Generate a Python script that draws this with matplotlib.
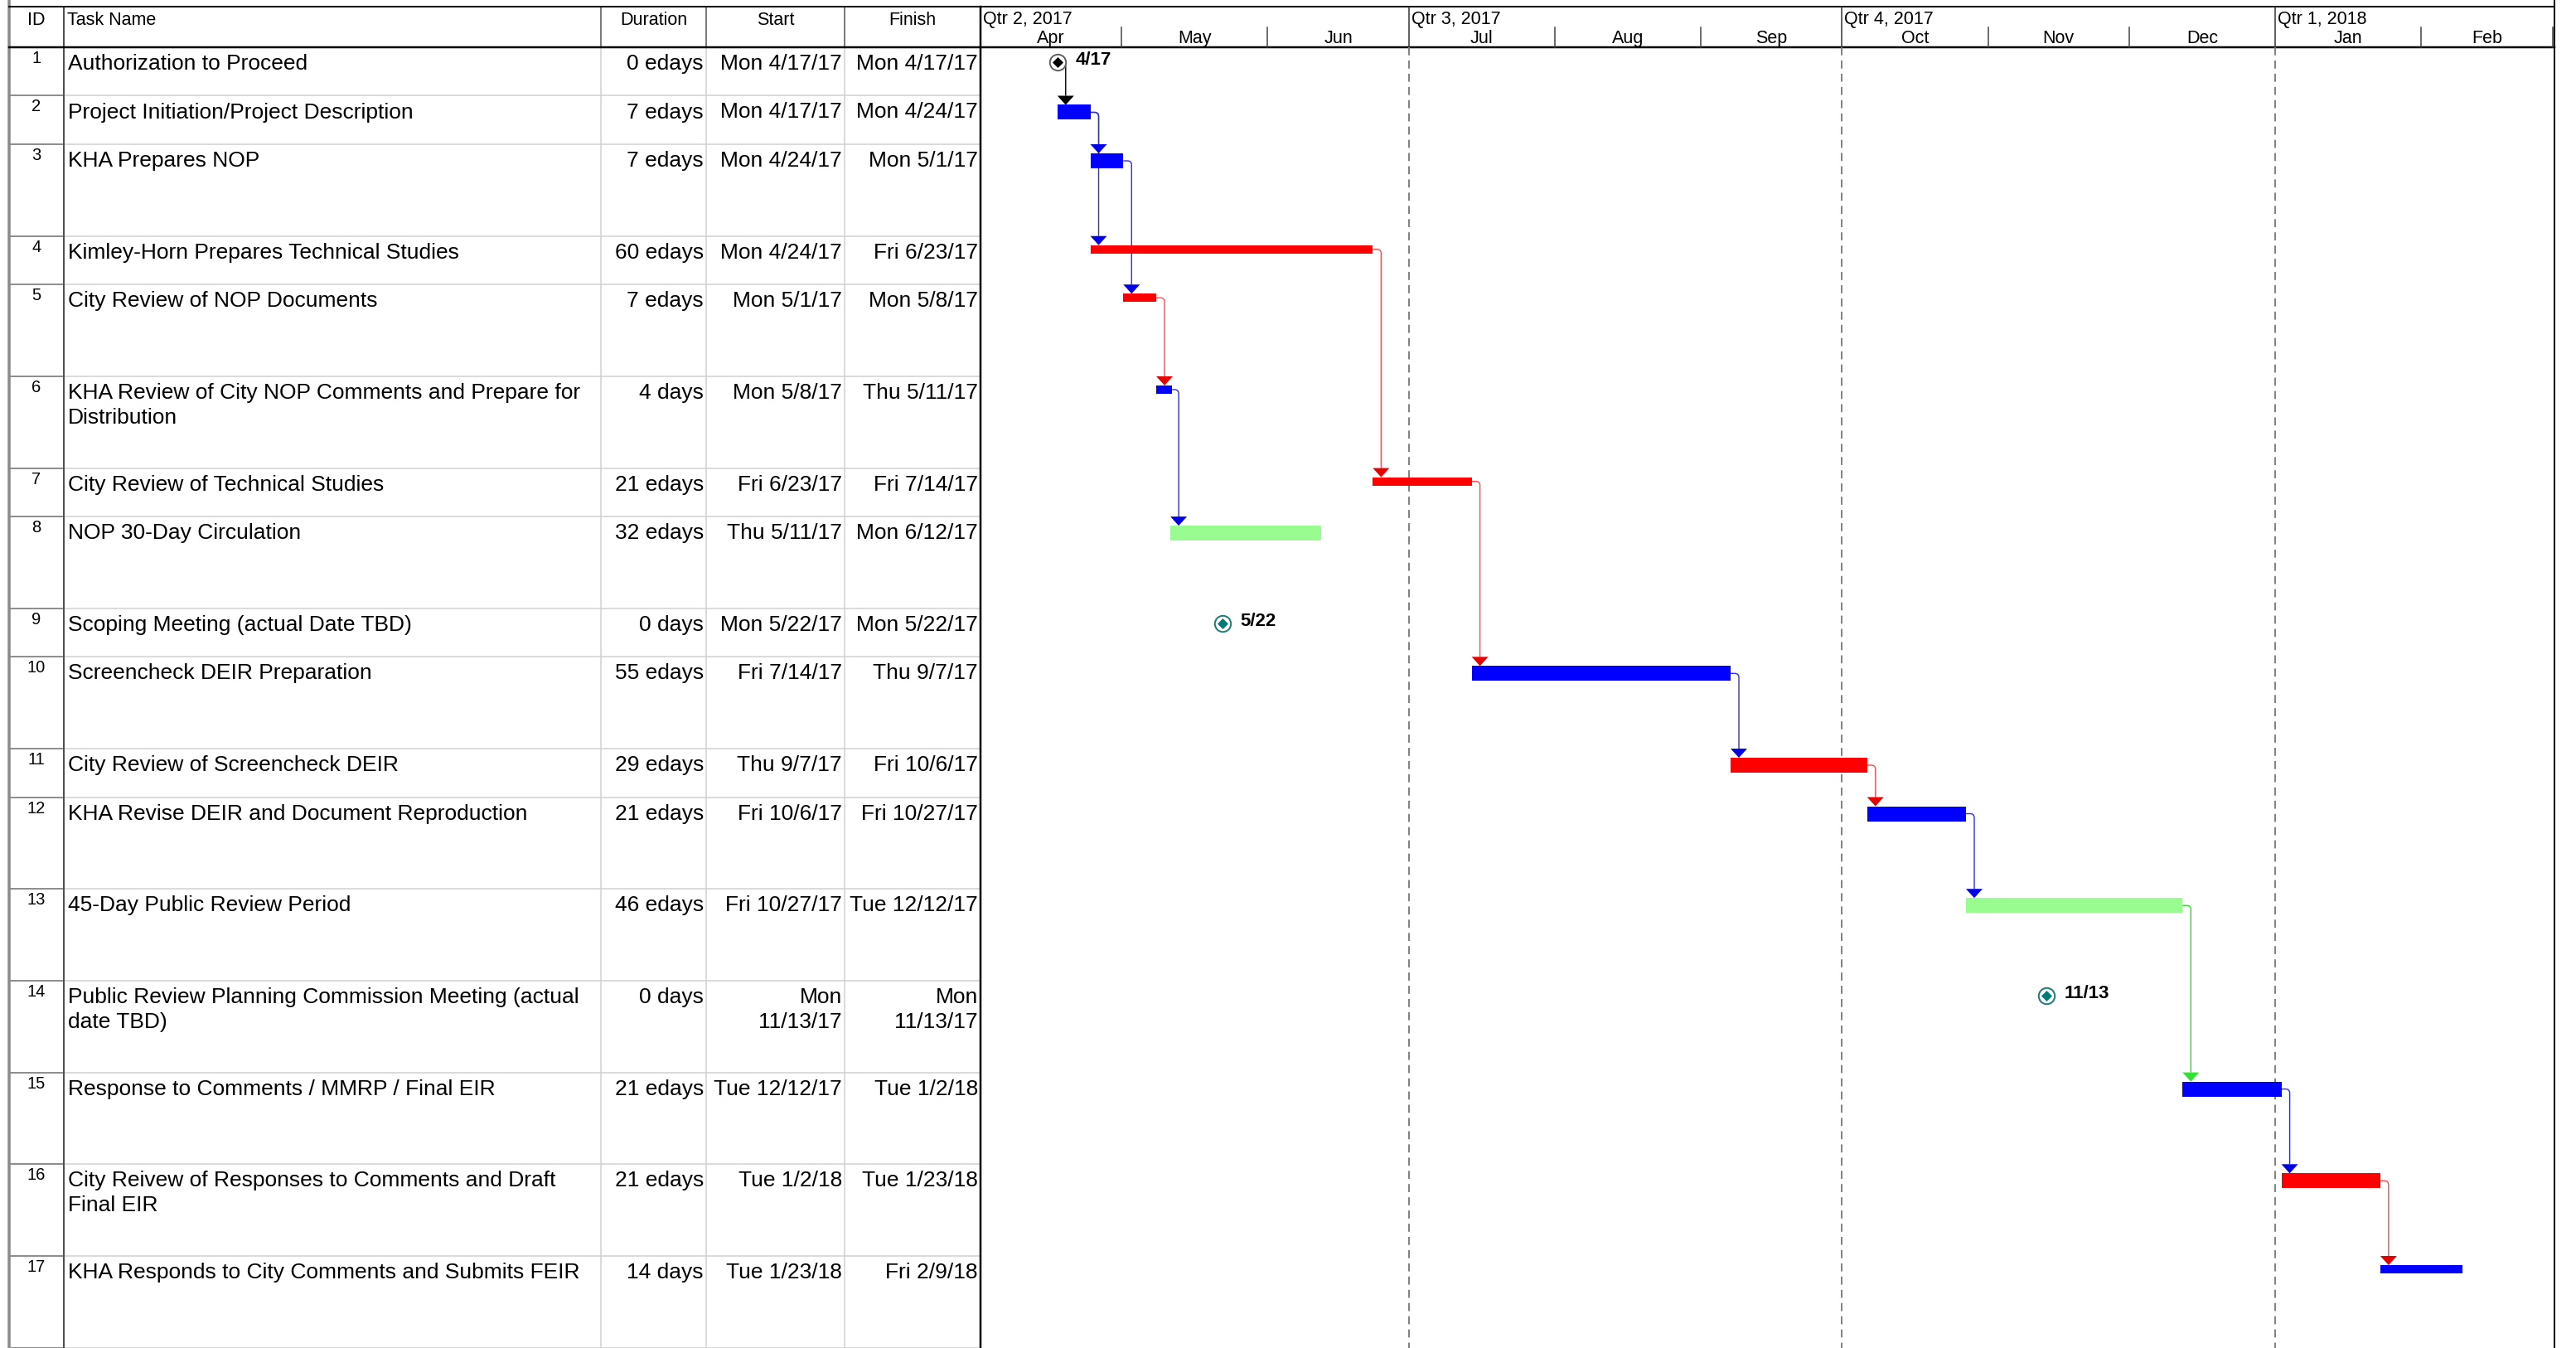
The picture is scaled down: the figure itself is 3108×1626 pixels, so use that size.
import datetime as dt
import matplotlib
matplotlib.use('Agg')
import matplotlib.pyplot as plt
import matplotlib.dates as mdates
from matplotlib.patches import Polygon, PathPatch
from matplotlib.path import Path

### Data
ids = list(range(1, 18))
task_names = ['Authorization to Proceed',
              'Project Initiation/Project Description',
              'KHA Prepares NOP',
              'Kimley-Horn Prepares Technical Studies',
              'City Review of NOP Documents',
              'KHA Review of City NOP Comments and Prepare for\nDistribution',
              'City Review of Technical Studies',
              'NOP 30-Day Circulation',
              'Scoping Meeting (actual Date TBD)',
              'Screencheck DEIR Preparation',
              'City Review of Screencheck DEIR',
              'KHA Revise DEIR and Document Reproduction',
              '45-Day Public Review Period',
              'Public Review Planning Commission Meeting (actual\ndate TBD)',
              'Response to Comments / MMRP / Final EIR',
              'City Reivew of Responses to Comments and Draft\nFinal EIR',
              'KHA Responds to City Comments and Submits FEIR']
durations = ['0 edays', '7 edays', '7 edays', '60 edays', '7 edays', '4 days',
             '21 edays', '32 edays', '0 days', '55 edays', '29 edays', '21 edays',
             '46 edays', '0 days', '21 edays', '21 edays', '14 days']
starts = ['Mon 4/17/17', 'Mon 4/17/17', 'Mon 4/24/17', 'Mon 4/24/17', 'Mon 5/1/17',
          'Mon 5/8/17', 'Fri 6/23/17', 'Thu 5/11/17', 'Mon 5/22/17', 'Fri 7/14/17',
          'Thu 9/7/17', 'Fri 10/6/17', 'Fri 10/27/17', 'Mon\n11/13/17', 'Tue 12/12/17',
          'Tue 1/2/18', 'Tue 1/23/18']
finishes = ['Mon 4/17/17', 'Mon 4/24/17', 'Mon 5/1/17', 'Fri 6/23/17', 'Mon 5/8/17',
            'Thu 5/11/17', 'Fri 7/14/17', 'Mon 6/12/17', 'Mon 5/22/17', 'Thu 9/7/17',
            'Fri 10/6/17', 'Fri 10/27/17', 'Tue 12/12/17', 'Mon\n11/13/17', 'Tue 1/2/18',
            'Tue 1/23/18', 'Fri 2/9/18']
# predecessor -> successor (finish to start)
links = [(1, 2), (2, 3), (2, 4), (3, 5), (4, 7), (5, 6), (6, 8), (7, 10),
         (10, 11), (11, 12), (12, 13), (13, 15), (15, 16), (16, 17)]

quarter_starts = ['2017-04-01', '2017-07-01', '2017-10-01', '2018-01-01']
quarter_labels = ['Qtr 2, 2017', 'Qtr 3, 2017', 'Qtr 4, 2017', 'Qtr 1, 2018']
month_edges = ['2017-04-01', '2017-05-01', '2017-06-01', '2017-07-01', '2017-08-01',
               '2017-09-01', '2017-10-01', '2017-11-01', '2017-12-01', '2018-01-01',
               '2018-02-01', '2018-03-01']
month_labels = ['Apr', 'May', 'Jun', 'Jul', 'Aug', 'Sep', 'Oct', 'Nov', 'Dec', 'Jan', 'Feb']

### Style
bar_color = ['k', 'b', 'b', 'r', 'r', 'b', 'r', 'g', 'k', 'b', 'r', 'b', 'g', 'k', 'b', 'r', 'b']
bar_thin = [4, 5, 6, 7, 17]
row_big = [3, 5, 6, 8, 10, 12, 13, 14, 15, 16, 17]
fill = {'b': '#0000ff', 'r': '#ff0000', 'g': '#98fc90', 'k': 'black'}
link_col = {'b': '#2a2aff', 'r': '#ff4a4a', 'g': '#30d830', 'k': 'black'}
tri_col = {'b': '#0000e6', 'r': '#e60000', 'g': '#33e033', 'k': 'black'}

W, H, DPI = 3108, 1626, 100
TOP, HDR = 8, 57
X_L, X_ID, X_TASK, X_DUR, X_START, X_G, X_R = 11, 77, 725, 852, 1019, 1183, 3082
SMALL, BIG = 58.5, 110.7

BODY = ['Liberation Sans', 'DejaVu Sans']
NARROW = ['Liberation Sans Narrow', 'Liberation Sans', 'DejaVu Sans']
FS_BODY, FS_HDR, FS_ID = 19, 15.5, 14.5

def to_date(s):
    return dt.datetime.strptime(s.split()[-1], '%m/%d/%y')

# row layout
row_top = []
y = HDR
for i in ids:
    row_top.append(y)
    y += BIG if i in row_big else SMALL

fig = plt.figure(figsize=(W / DPI, H / DPI), dpi=DPI)
ax_t = fig.add_axes([0, 0, X_G / W, 1])
ax_t.set_xlim(0, X_G)
ax_t.set_ylim(H, 0)
ax_t.axis('off')

ax_g = fig.add_axes([X_G / W, 0, (X_R - X_G) / W, 1])
xd0 = mdates.date2num(dt.datetime(2017, 4, 1))
xd1 = mdates.date2num(dt.datetime(2018, 3, 1, 8))
ax_g.set_xlim(xd0, xd1)
ax_g.set_ylim(H, 0)
ax_g.axis('off')
ppd = (X_R - X_G) / (xd1 - xd0)   # pixels per day

### Table
lw_px = 0.72
for yy in row_top[1:] + [row_top[-1] + BIG]:
    ax_t.plot([X_ID, X_G], [yy, yy], color='#d0d0d0', lw=1.5 * lw_px)
    ax_t.plot([X_L, X_ID], [yy, yy], color='#6a6a6a', lw=1.5 * lw_px)
for xx in [X_TASK, X_DUR, X_START]:
    ax_t.plot([xx, xx], [HDR, H], color='#d0d0d0', lw=1.5 * lw_px)
    ax_t.plot([xx, xx], [TOP, HDR], color='#505050', lw=1.5 * lw_px)
ax_t.plot([X_ID, X_ID], [TOP, H], color='#505050', lw=2 * lw_px)
ax_t.plot([X_L, X_L], [0, H], color='#8a8a8a', lw=3.5 * lw_px, clip_on=False)
ax_t.plot([X_L, X_G], [TOP, TOP], color='black', lw=2 * lw_px)
ax_t.plot([X_L, X_G], [HDR, HDR], color='black', lw=2.5 * lw_px)
ax_t.plot([X_G, X_G], [TOP, H], color='black', lw=2.5 * lw_px, clip_on=False)

hdr_kw = dict(va='center', fontsize=FS_HDR, family=NARROW)
ax_t.text((X_L + X_ID) / 2, 24, 'ID', ha='center', **hdr_kw)
ax_t.text(X_ID + 4, 24, 'Task Name', ha='left', **hdr_kw)
ax_t.text((X_TASK + X_DUR) / 2, 24, 'Duration', ha='center', **hdr_kw)
ax_t.text((X_DUR + X_START) / 2, 24, 'Start', ha='center', **hdr_kw)
ax_t.text((X_START + X_G) / 2, 24, 'Finish', ha='center', **hdr_kw)

txt_kw = dict(va='top', fontsize=FS_BODY, family=BODY, linespacing=1.3)
for k, i in enumerate(ids):
    yt = row_top[k] + 8
    ax_t.text((X_L + X_ID) / 2, row_top[k] + 4, str(i), ha='center', va='top',
              fontsize=FS_ID, family=BODY)
    ax_t.text(X_ID + 5, yt, task_names[k], ha='left', **txt_kw)
    ax_t.text(X_DUR - 3, yt, durations[k], ha='right', **txt_kw)
    ax_t.text(X_START - 3, yt, starts[k], ha='right', **txt_kw)
    ax_t.text(X_G - 3, yt, finishes[k], ha='right', **txt_kw)

### Timescale header
ax_g.plot([xd0, xd1], [TOP, TOP], color='black', lw=2 * lw_px, clip_on=False)
ax_g.plot([xd0, xd1], [HDR, HDR], color='black', lw=2.5 * lw_px, clip_on=False)
ax_g.plot([xd1, xd1], [0, H], color='black', lw=2 * lw_px, clip_on=False)
q_num = [mdates.date2num(dt.datetime.strptime(q, '%Y-%m-%d')) for q in quarter_starts]
m_num = [mdates.date2num(dt.datetime.strptime(m, '%Y-%m-%d')) for m in month_edges]
for q, lab in zip(q_num, quarter_labels):
    if q > xd0:
        ax_g.plot([q, q], [TOP, HDR], color='#303030', lw=1.5 * lw_px)
        ax_g.plot([q, q], [HDR, H], color='#808080', lw=1.4, ls=(0, (5, 3.2)))
    ax_g.text(q + 3 / ppd, 24, lab, ha='left', va='center', fontsize=FS_HDR, family=NARROW)
for m in m_num[1:]:
    if m not in q_num:
        ax_g.plot([m, m], [33, HDR], color='#404040', lw=1.5 * lw_px)
for a, b, lab in zip(m_num[:-1], m_num[1:], month_labels):
    ax_g.text((a + b) / 2, 46.5, lab, ha='center', va='center', fontsize=FS_HDR, family=NARROW)

### Bars and milestones
start_d = [mdates.date2num(to_date(s)) + 8 / 24 for s in starts]
finish_d = []
for f, d in zip(finishes, durations):
    end_h = 8 if 'edays' in d else 17
    finish_d.append(mdates.date2num(to_date(f)) + end_h / 24)

BAR_OFF = 11
bar_top, bar_mid, bar_end = [], [], []
for k, i in enumerate(ids):
    h = 10 if i in bar_thin else 18
    bar_top.append(row_top[k] + BAR_OFF)
    bar_mid.append(row_top[k] + BAR_OFF + h / 2)
    if durations[k].startswith('0 '):
        xm = start_d[k]
        ym = row_top[k] + 18
        bar_mid[k] = ym
        bar_end.append(xm)
        mcol = 'black' if i == 1 else '#007a78'
        ecol = '#606060' if i == 1 else '#1a7a78'
        ax_g.plot(xm, ym, marker='o', ms=14, mfc='white', mec=ecol, mew=1.4, zorder=6)
        ax_g.plot(xm, ym, marker='D', ms=6.5, mfc=mcol, mec=mcol, mew=0.5, zorder=7)
        d = to_date(starts[k])
        ax_g.text(xm + 22 / ppd, ym - 2, f'{d.month}/{d.day}', ha='left', va='center',
                  fontsize=16, fontweight='bold', family=NARROW)
    else:
        bar_end.append(finish_d[k])
        ax_g.barh(row_top[k] + BAR_OFF + h / 2, finish_d[k] - start_d[k], left=start_d[k],
                  height=h, color=fill[bar_color[k]], zorder=4)

### Links
off = 10 / ppd
rx, ry = 5 / ppd, 5
tw, th = 10 / ppd, 11
for p, s in links:
    i, j = p - 1, s - 1
    xe, ye = bar_end[i], bar_mid[i]
    xs = start_d[j] + off
    ytri = bar_top[j] - th
    verts = [(xe, ye), (xs - rx, ye), (xs, ye), (xs, ye + ry), (xs, ytri)]
    codes = [Path.MOVETO, Path.LINETO, Path.CURVE3, Path.CURVE3, Path.LINETO]
    ax_g.add_patch(PathPatch(Path(verts, codes), fill=False, lw=1.0,
                             edgecolor=link_col[bar_color[i]], zorder=3))
    ax_g.add_patch(Polygon([(xs - tw, ytri), (xs + tw, ytri), (xs, bar_top[j])],
                           closed=True, color=tri_col[bar_color[i]], lw=0, zorder=5))

fig.savefig('out.png', dpi=DPI)
